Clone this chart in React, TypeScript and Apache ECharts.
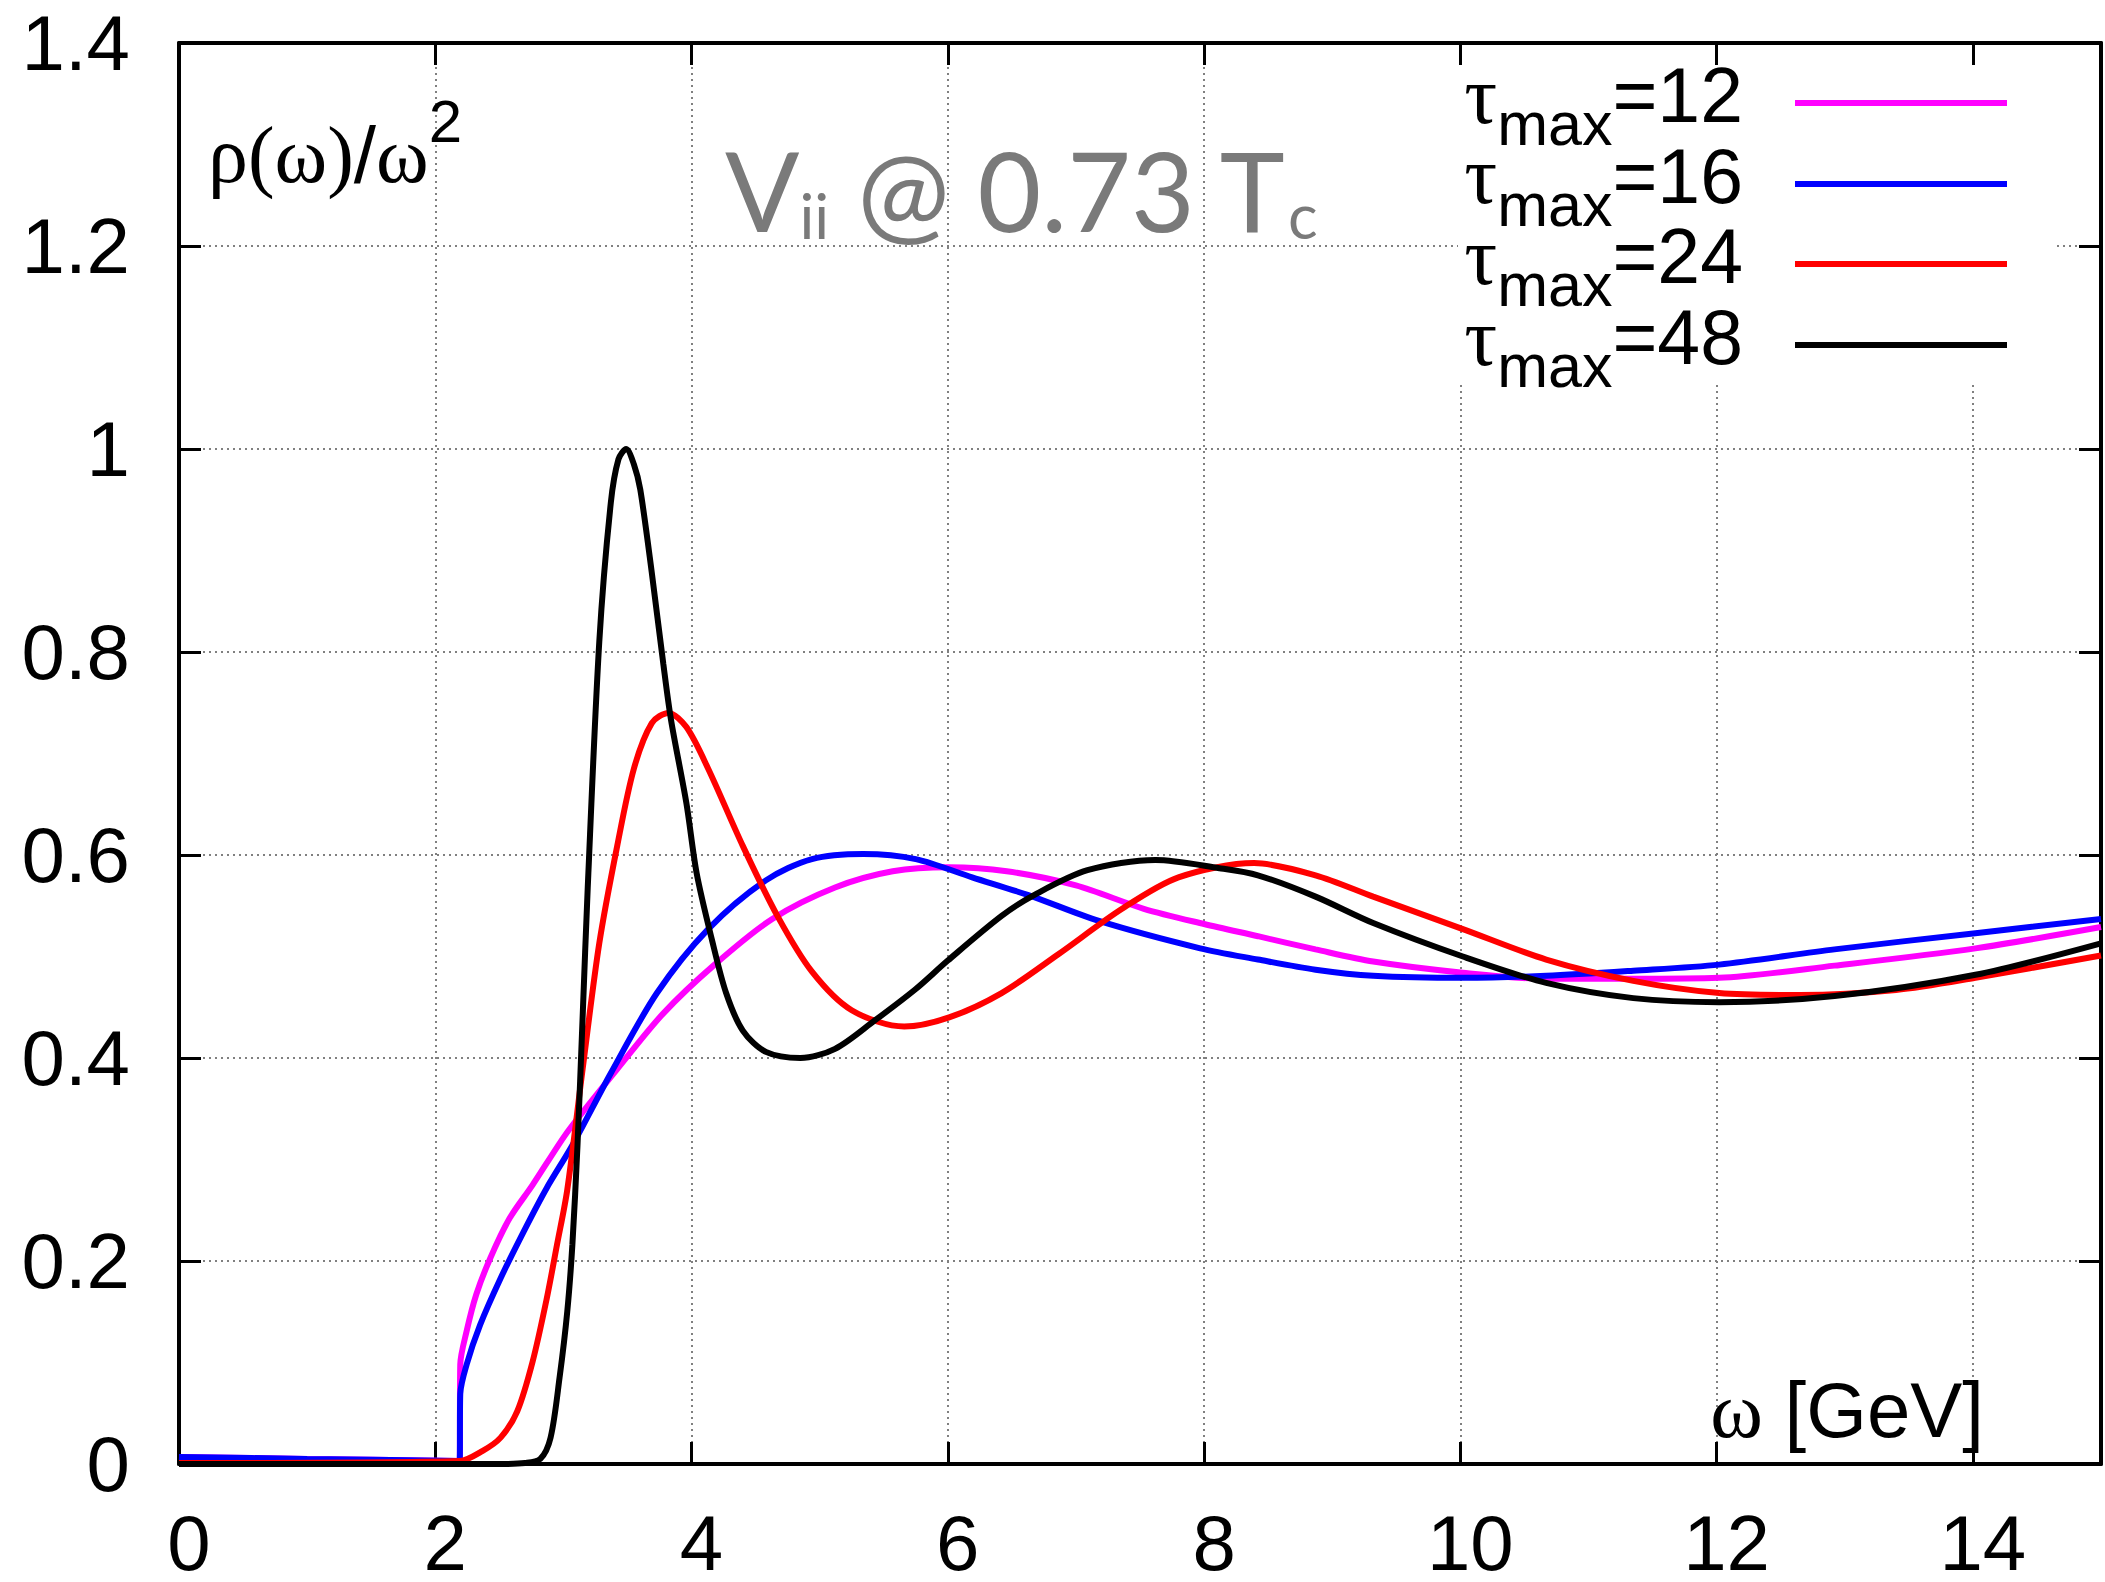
import React, { useEffect, useRef } from "react";
import * as echarts from "echarts";

// ---- data ----
const xTickValues = [0, 2, 4, 6, 8, 10, 12, 14];
const yTickValues = [0, 0.2, 0.4, 0.6, 0.8, 1, 1.2, 1.4];

const seriesNames = ["τmax=12", "τmax=16", "τmax=24", "τmax=48"];
const legendValues = ["12", "16", "24", "48"];
const seriesColors = ["#ff00ff", "#0000ff", "#ff0000", "#000000"];

const omega12 = [0, 1, 2.19, 2.195, 2.245, 2.32, 2.43, 2.58, 2.76, 2.96, 3.06, 3.42, 3.78, 4.18, 4.63, 5.12, 5.57, 6.01, 6.46, 7.0, 7.53, 8.0, 8.42, 8.87, 9.32, 10.02, 10.67, 11.35, 12.02, 12.92, 14.02, 15];
const rho12 = [0.007, 0.005, 0.003, 0.098, 0.131, 0.167, 0.203, 0.242, 0.275, 0.314, 0.332, 0.389, 0.444, 0.492, 0.537, 0.568, 0.584, 0.588, 0.584, 0.57, 0.547, 0.532, 0.52, 0.507, 0.495, 0.484, 0.478, 0.478, 0.479, 0.491, 0.508, 0.529];

const omega16 = [0, 1, 2.19, 2.195, 2.245, 2.35, 2.51, 2.69, 2.87, 3.07, 3.37, 3.73, 4.13, 4.58, 4.94, 5.34, 5.75, 6.19, 6.64, 7.18, 7.97, 8.42, 8.87, 9.32, 10.02, 10.67, 11.35, 12.02, 12.92, 14.02, 15];
const rho16 = [0.007, 0.005, 0.003, 0.069, 0.098, 0.137, 0.183, 0.229, 0.272, 0.314, 0.385, 0.464, 0.527, 0.575, 0.596, 0.601, 0.596, 0.578, 0.56, 0.535, 0.508, 0.497, 0.487, 0.481, 0.479, 0.481, 0.486, 0.492, 0.507, 0.523, 0.537];

const omega24 = [0, 2.19, 2.37, 2.51, 2.64, 2.76, 2.87, 2.95, 3.03, 3.15, 3.28, 3.42, 3.55, 3.69, 3.82, 3.96, 4.13, 4.4, 4.67, 4.94, 5.25, 5.66, 6.01, 6.42, 6.86, 7.36, 7.8, 8.39, 8.87, 9.32, 10.02, 10.67, 11.35, 12.02, 12.65, 13.4, 14.02, 15];
const rho24 = [0.001, 0.003, 0.013, 0.026, 0.052, 0.101, 0.163, 0.216, 0.27, 0.389, 0.513, 0.609, 0.685, 0.73, 0.74, 0.726, 0.685, 0.609, 0.54, 0.485, 0.447, 0.431, 0.44, 0.464, 0.502, 0.547, 0.578, 0.592, 0.58, 0.559, 0.527, 0.497, 0.476, 0.464, 0.462, 0.467, 0.479, 0.501];

const omega48 = [0, 2.5, 2.7, 2.82, 2.9, 2.97, 3.03, 3.07, 3.11, 3.15, 3.19, 3.28, 3.37, 3.43, 3.49, 3.55, 3.6, 3.69, 3.78, 3.84, 3.96, 4.04, 4.16, 4.27, 4.4, 4.58, 4.85, 5.12, 5.43, 5.75, 6.0, 6.42, 6.68, 7.09, 7.62, 8.12, 8.42, 8.87, 9.32, 10.02, 10.67, 11.35, 12.02, 12.92, 14.02, 15];
const rho48 = [0, 0, 0.001, 0.005, 0.026, 0.085, 0.15, 0.216, 0.314, 0.44, 0.568, 0.81, 0.947, 0.99, 1.0, 0.985, 0.96, 0.878, 0.788, 0.733, 0.651, 0.582, 0.516, 0.464, 0.427, 0.406, 0.4, 0.409, 0.437, 0.468, 0.496, 0.54, 0.561, 0.585, 0.595, 0.587, 0.58, 0.559, 0.533, 0.5, 0.474, 0.459, 0.455, 0.461, 0.482, 0.513];

const omegaSets = [omega12, omega16, omega24, omega48];
const rhoSets = [rho12, rho16, rho24, rho48];

const SANS = '"Liberation Sans", Arial, Helvetica, sans-serif';
const SERIF = '"Liberation Serif", "Times New Roman", serif';
const TITLEFONT = 'Lato, "Open Sans", sans-serif';
const CURVE_WIDTH = 6;

function buildOption(): any {
  const series = seriesNames.map((name, i) => ({
    name,
    type: "line",
    xAxisIndex: 0,
    yAxisIndex: 0,
    data: omegaSets[i].map((x, k) => [x, rhoSets[i][k]]),
    showSymbol: false,
    symbol: "none",
    smooth: 0.3,
    lineStyle: { color: seriesColors[i], width: CURVE_WIDTH },
    itemStyle: { color: seriesColors[i] },
    z: 2 + i,
  }));

  const gridLine = { color: "#808080", width: 2, type: [2, 4] };
  const axisLine = { show: true, onZero: false, lineStyle: { color: "#000", width: 4 } };
  const axisTick = { show: true, inside: true, length: 22, lineStyle: { color: "#000", width: 3 } };

  const legendRows = [103, 184, 264, 345];
  const legendGraphics: any[] = legendValues.map((v, i) => ({
    type: "line",
    z: 10,
    shape: { x1: 1795, y1: legendRows[i], x2: 2007, y2: legendRows[i] },
    style: { stroke: seriesColors[i], lineWidth: CURVE_WIDTH },
  }));
  const LEG_LH = 80.7;
  legendGraphics.push({
    type: "text",
    z: 10,
    x: 1743,
    y: 95 - LEG_LH / 2,
    style: {
      text: legendValues.map((v) => `{t|τ}{s|max}{n|=${v}}`).join("\n"),
      textAlign: "right",
      textVerticalAlign: "top",
      fill: "#000",
      fontSize: 77,
      fontFamily: SANS,
      lineHeight: LEG_LH,
      rich: {
        t: { fontFamily: SERIF, fontSize: 82, lineHeight: LEG_LH, fill: "#000" },
        s: { fontFamily: SANS, fontSize: 61, lineHeight: LEG_LH - 58, fill: "#000", padding: [58, 0, 0, 0] },
        n: { fontFamily: SANS, fontSize: 77, lineHeight: LEG_LH, fill: "#000" },
      },
    },
  });

  return {
    animation: false,
    backgroundColor: "#ffffff",
    grid: { left: 179, right: 4, top: 43, bottom: 112, containLabel: false },
    xAxis: [
      {
        type: "value",
        min: 0,
        max: 15,
        interval: 2,
        position: "bottom",
        axisLine,
        axisTick,
        axisLabel: {
          show: true,
          margin: 49,
          fontSize: 78,
          lineHeight: 60,
          fontFamily: SANS,
          color: "#000",
          showMaxLabel: false,
          padding: [0, 0, 0, 20],
          formatter: (v: number) => (xTickValues.includes(v) ? String(v) : ""),
        },
        splitLine: { show: true, showMinLine: false, showMaxLine: false, lineStyle: gridLine },
        z: 0,
      },
      {
        type: "value",
        min: 0,
        max: 15,
        interval: 2,
        position: "top",
        axisLine,
        axisTick,
        axisLabel: { show: false },
        splitLine: { show: false },
        z: 0,
      },
    ],
    yAxis: [
      {
        type: "value",
        min: 0,
        max: 1.4,
        interval: 0.2,
        position: "left",
        axisLine,
        axisTick,
        axisLabel: {
          show: true,
          margin: 49,
          fontSize: 78,
          fontFamily: SANS,
          color: "#000",
          showMaxLabel: true,
          showMinLabel: true,
          formatter: (v: number) => {
            const r = Math.round(v * 10) / 10;
            return yTickValues.includes(r) ? String(r) : "";
          },
        },
        splitLine: { show: true, showMinLine: false, showMaxLine: false, lineStyle: gridLine },
        z: 0,
      },
      {
        type: "value",
        min: 0,
        max: 1.4,
        interval: 0.2,
        position: "right",
        axisLine,
        axisTick,
        axisLabel: { show: false },
        splitLine: { show: false },
        z: 0,
      },
    ],
    series,
    graphic: [
      {
        type: "rect",
        z: 1,
        shape: { x: 1458, y: 66, width: 598, height: 317 },
        style: { fill: "#ffffff" },
      },
      ...legendGraphics,
      {
        type: "text",
        z: 10,
        x: 725,
        y: 189,
        style: {
          text: "{m|V}{s|ii}{m| @ 0.73 T}{s|c}",
          textAlign: "left",
          textVerticalAlign: "middle",
          fill: "#7a7a7a",
          fontSize: 110,
          fontFamily: TITLEFONT,
          rich: {
            m: { fontFamily: TITLEFONT, fontSize: 110, lineHeight: 110, fill: "#7a7a7a" },
            s: { fontFamily: TITLEFONT, fontSize: 62, lineHeight: 58, fill: "#7a7a7a", padding: [52, 0, 0, 0] },
          },
        },
      },
      {
        type: "text",
        z: 10,
        x: 208,
        y: 155,
        style: {
          text: "{g|ρ(ω)}{n|/}{g|ω}{p|2}",
          textAlign: "left",
          textVerticalAlign: "middle",
          fill: "#000",
          fontSize: 80,
          fontFamily: SANS,
          rich: {
            g: { fontFamily: SERIF, fontSize: 80, lineHeight: 80, fill: "#000" },
            n: { fontFamily: SANS, fontSize: 80, lineHeight: 80, fill: "#000" },
            p: { fontFamily: SANS, fontSize: 60, lineHeight: 12, fill: "#000", padding: [0, 0, 68, 0] },
          },
        },
      },
      {
        type: "text",
        z: 10,
        x: 1984,
        y: 1410,
        style: {
          text: "{g|ω}{n| [GeV]}",
          textAlign: "right",
          textVerticalAlign: "middle",
          fill: "#000",
          fontSize: 78,
          fontFamily: SANS,
          rich: {
            g: { fontFamily: SERIF, fontSize: 80, lineHeight: 78, fill: "#000" },
            n: { fontFamily: SANS, fontSize: 78, lineHeight: 78, fill: "#000" },
          },
        },
      },
    ],
  };
}

export default function App() {
  const ref = useRef<HTMLDivElement>(null);
  useEffect(() => {
    if (!ref.current) return;
    const chart = echarts.init(ref.current, undefined, { renderer: "svg" });
    chart.setOption(buildOption());
    return () => {
      chart.dispose();
    };
  }, []);
  return (
    <div
      ref={ref}
      style={{ position: "absolute", left: 0, top: 0, width: 2105, height: 1582, background: "#fff" }}
    />
  );
}
